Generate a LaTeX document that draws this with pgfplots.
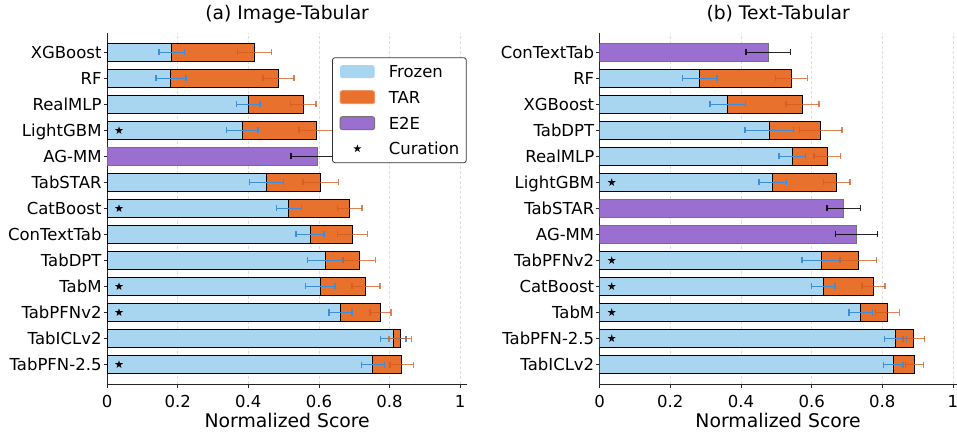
\documentclass[border=0pt]{standalone}
\usepackage{pgfplots}
\pgfplotsset{compat=1.18}
\usepackage{pgfplotstable}
\usepackage{fontspec}
\setmainfont{DejaVu Sans}

\definecolor{frozenc}{HTML}{A8D5F0}
\definecolor{tarc}{HTML}{E8712D}
\definecolor{e2ec}{HTML}{9B6FCF}
\definecolor{ferrc}{HTML}{3C8EDB}
\definecolor{terrc}{HTML}{D45A1E}

% filled five-point star (like matplotlib's '*')
\pgfdeclareplotmark{fstar}{%
  \pgfpathmoveto{\pgfpointpolar{90}{\pgfplotmarksize}}%
  \pgfpathlineto{\pgfpointpolar{126}{0.381\pgfplotmarksize}}%
  \pgfpathlineto{\pgfpointpolar{162}{\pgfplotmarksize}}%
  \pgfpathlineto{\pgfpointpolar{198}{0.381\pgfplotmarksize}}%
  \pgfpathlineto{\pgfpointpolar{234}{\pgfplotmarksize}}%
  \pgfpathlineto{\pgfpointpolar{270}{0.381\pgfplotmarksize}}%
  \pgfpathlineto{\pgfpointpolar{306}{\pgfplotmarksize}}%
  \pgfpathlineto{\pgfpointpolar{342}{0.381\pgfplotmarksize}}%
  \pgfpathlineto{\pgfpointpolar{18}{\pgfplotmarksize}}%
  \pgfpathlineto{\pgfpointpolar{54}{0.381\pgfplotmarksize}}%
  \pgfpathclose
  \pgfusepathqfill
}

% y: row position (12 = top row)
\pgfplotstableread{
y frozen ferr total terr
12 0.183 0.036 0.418 0.048
11 0.181 0.042 0.486 0.044
10 0.400 0.033 0.556 0.036
9  0.383 0.045 0.592 0.048
7  0.451 0.048 0.605 0.050
6  0.515 0.035 0.687 0.035
5  0.575 0.040 0.695 0.042
4  0.618 0.050 0.714 0.046
3  0.604 0.042 0.733 0.040
2  0.661 0.032 0.774 0.030
1  0.810 0.036 0.830 0.032
0  0.753 0.033 0.834 0.033
}\leftstack
\pgfplotstableread{
y total err
8 0.596 0.075
}\lefte
\pgfplotstableread{
x y
0.034 9
0.034 6
0.034 3
0.034 2
0.034 0
}\leftcur

\pgfplotstableread{
y frozen ferr total terr
11 0.283 0.049 0.543 0.045
10 0.362 0.050 0.574 0.047
9  0.480 0.069 0.626 0.060
8  0.545 0.038 0.644 0.038
7  0.490 0.039 0.671 0.037
4  0.627 0.054 0.732 0.052
3  0.633 0.033 0.775 0.032
2  0.739 0.033 0.814 0.034
1  0.837 0.031 0.889 0.031
0  0.831 0.028 0.891 0.026
}\rightstack
\pgfplotstableread{
y total err
12 0.477 0.063
6  0.691 0.047
5  0.727 0.060
}\righte
\pgfplotstableread{
x y
0.034 7
0.034 4
0.034 3
0.034 2
0.034 1
}\rightcur

\pgfplotsset{
  panel/.style={
    scale only axis, height=351pt,
    xmin=0, ymin=-0.75, ymax=12.75,
    axis lines*=left,
    axis line style={black!85, line width=1pt},
    tick align=outside, major tick length=3.5pt,
    tick style={black!85, line width=0.8pt},
    xtick={0,0.2,0.4,0.6,0.8,1}, ytick={0,...,12},
    xmajorgrids,
    grid style={color=black!13, line width=0.8pt, dash pattern=on 3pt off 2pt},
    /pgf/number format/assume math mode=true,
    ticklabel style={font=\fontsize{16.5}{19}\selectfont},
    xticklabel style={inner sep=0pt, anchor=north, yshift=-7.5pt},
    yticklabel style={inner sep=0pt, anchor=east, text height=12pt, text depth=0pt, xshift=-1.8pt},
    xlabel={Normalized Score},
    xlabel style={font=\fontsize{18.8}{22}\selectfont, at={(axis description cs:0.5,0)},
      anchor=base, yshift=-43.5pt, inner sep=0pt},
    title style={font=\fontsize{18.7}{22}\selectfont, at={(axis description cs:0.5,1)},
      anchor=base, yshift=7.4pt, inner sep=0pt},
  },
  tarbar/.style={xbar, bar width=0.67, bar shift=0pt, fill=tarc, draw=black, line width=1pt, forget plot},
  frzbar/.style={xbar, bar width=0.67, bar shift=0pt, fill=frozenc, draw=black, line width=1pt, forget plot},
  e2ebar/.style={xbar, bar width=0.67, bar shift=0pt, fill=e2ec, draw=black!55, line width=1pt, forget plot},
  errb/.style 2 args={draw=none, mark=none, forget plot, error bars/.cd, x dir=both, x explicit,
    error mark=|,
    error bar style={color=#1, line width=1.5pt, draw opacity=#2},
    error mark options={color=#1, line width=1.5pt, mark size=3pt, draw opacity=#2}},
  curation/.style={only marks, mark=fstar, mark size=4.2pt, black, forget plot},
}

\begin{document}
\begin{tikzpicture}
\useasboundingbox (0pt,0pt) rectangle (957pt,431pt);

\begin{axis}[panel, at={(107pt,47pt)}, anchor=south west,
  width=360.3pt, xmax=1.02,
  title={(a) Image-Tabular},
  yticklabels={TabPFN-2.5,TabICLv2,TabPFNv2,TabM,TabDPT,ConTextTab,CatBoost,TabSTAR,AG-MM,LightGBM,RealMLP,RF,XGBoost},
  legend style={at={(0.9983,0.9308)}, anchor=north east, draw=black!80, line width=0.8pt,
    rounded corners=2.5pt, fill=white, font=\fontsize{16.5}{19}\selectfont,
    inner xsep=7pt, inner ysep=7.5pt, row sep=12pt,
    nodes={inner sep=0pt, text height=12pt, text depth=0pt},
    /tikz/every odd column/.append style={column sep=13.6pt}},
  legend cell align=left]
\addplot[tarbar] table[x=total, y=y]{\leftstack};
\addplot[frzbar] table[x=frozen, y=y]{\leftstack};
\addplot[e2ebar] table[x=total, y=y]{\lefte};
\addplot[errb={ferrc}{1}] table[x=frozen, y=y, x error=ferr]{\leftstack};
\addplot[errb={terrc}{0.75}] table[x=total, y=y, x error=terr]{\leftstack};
\addplot[errb={black}{0.85}] table[x=total, y=y, x error=err]{\lefte};
\addplot[curation] table[x=x, y=y]{\leftcur};

\addlegendimage{legend image code/.code={\path[draw=none, fill=frozenc] (0pt,-6.5pt) rectangle (34.7pt,6.5pt);}}
\addlegendentry{Frozen}
\addlegendimage{legend image code/.code={\path[fill=tarc, draw=tarc!75!white, line width=1pt] (0pt,-6.5pt) rectangle (34.7pt,6.5pt);}}
\addlegendentry{TAR}
\addlegendimage{legend image code/.code={\path[fill=e2ec, draw=black!55, line width=1pt] (0pt,-6.5pt) rectangle (34.7pt,6.5pt);}}
\addlegendentry{E2E}
\addlegendimage{legend image code/.code={\path[draw=none, fill=none] (0pt,-6.5pt) rectangle (34.7pt,6.5pt);
  \path[draw=none, fill=black] plot[mark=fstar, mark size=4.2pt, only marks] coordinates {(17.35pt,0pt)};}}
\addlegendentry{Curation}
\end{axis}

\begin{axis}[panel, at={(599.7pt,47pt)}, anchor=south west,
  width=356.8pt, xmax=1.01,
  title={(b) Text-Tabular},
  yticklabels={TabICLv2,TabPFN-2.5,TabM,CatBoost,TabPFNv2,AG-MM,TabSTAR,LightGBM,RealMLP,TabDPT,XGBoost,RF,ConTextTab}]
\addplot[tarbar] table[x=total, y=y]{\rightstack};
\addplot[frzbar] table[x=frozen, y=y]{\rightstack};
\addplot[e2ebar] table[x=total, y=y]{\righte};
\addplot[errb={ferrc}{1}] table[x=frozen, y=y, x error=ferr]{\rightstack};
\addplot[errb={terrc}{0.75}] table[x=total, y=y, x error=terr]{\rightstack};
\addplot[errb={black}{0.85}] table[x=total, y=y, x error=err]{\righte};
\addplot[curation] table[x=x, y=y]{\rightcur};
\end{axis}
\end{tikzpicture}
\end{document}
